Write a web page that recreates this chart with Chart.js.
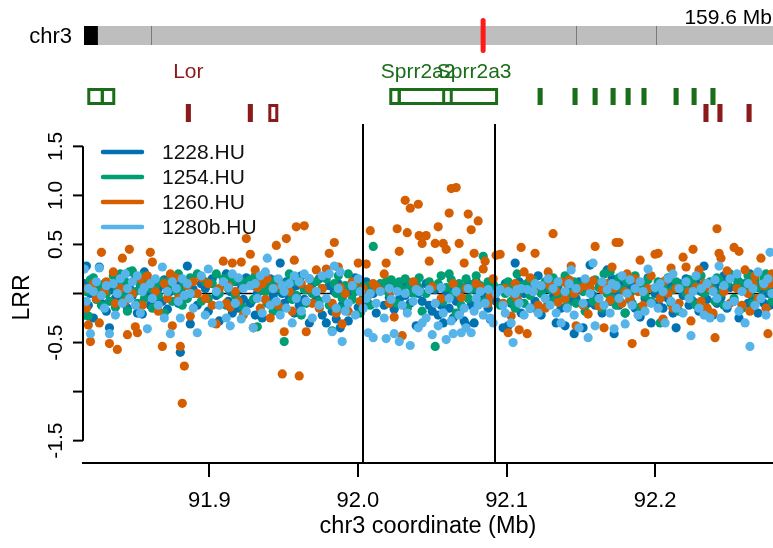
<!DOCTYPE html>
<html>
<head>
<meta charset="utf-8">
<script src="https://cdn.jsdelivr.net/npm/chart.js@4.4.1/dist/chart.umd.min.js"></script>
<style>
  html, body { margin: 0; padding: 0; background: #fff; }
  #wrap { width: 773px; height: 548px; }
</style>
</head>
<body>
<div id="wrap"><canvas id="lrrChart" width="773" height="548"></canvas></div>
<script>
// probe positions (Mb) and LRR per sample
const probePositions = [
  // 91.815 - 91.895
  91.8159, 91.8173, 91.8186, 91.8200, 91.8220, 91.8240, 91.8260, 91.8274, 91.8294, 91.8307, 91.8328, 91.8354, 91.8368, 91.8381, 91.8401,
  91.8415, 91.8435, 91.8449, 91.8462, 91.8482, 91.8502, 91.8516, 91.8536, 91.8549, 91.8563, 91.8583, 91.8603, 91.8617, 91.8637, 91.8657,
  91.8684, 91.8697, 91.8718, 91.8738, 91.8751, 91.8778, 91.8792, 91.8805, 91.8818, 91.8832, 91.8852, 91.8872, 91.8892, 91.8919, 91.8946,
  // 91.897 - 91.970
  91.8973, 91.8993, 91.9020, 91.9047, 91.9067, 91.9094, 91.9114, 91.9128, 91.9141, 91.9155, 91.9175, 91.9195, 91.9215, 91.9229, 91.9249,
  91.9276, 91.9296, 91.9309, 91.9323, 91.9343, 91.9356, 91.9377, 91.9390, 91.9410, 91.9430, 91.9451, 91.9464, 91.9477, 91.9491, 91.9504,
  91.9518, 91.9538, 91.9558, 91.9572, 91.9585, 91.9605, 91.9619, 91.9639, 91.9652, 91.9673, 91.9693,
  // 91.972 - 92.048
  91.9720, 91.9740, 91.9760, 91.9787, 91.9807, 91.9827, 91.9841, 91.9854, 91.9868, 91.9881, 91.9894, 91.9915, 91.9935, 91.9962, 91.9982,
  92.0002, 92.0016, 92.0036, 92.0056, 92.0069, 92.0083, 92.0103, 92.0123, 92.0150, 92.0177, 92.0190, 92.0211, 92.0224, 92.0244, 92.0264,
  92.0278, 92.0298, 92.0318, 92.0332, 92.0352, 92.0372, 92.0392, 92.0406, 92.0412, 92.0432, 92.0459, 92.0480,
  // 92.050 - 92.123
  92.0500, 92.0520, 92.0540, 92.0560, 92.0574, 92.0594, 92.0614, 92.0628, 92.0641, 92.0661, 92.0681, 92.0695, 92.0715, 92.0728, 92.0742,
  92.0762, 92.0782, 92.0796, 92.0809, 92.0823, 92.0843, 92.0856, 92.0876, 92.0890, 92.0910, 92.0930, 92.0957, 92.0977, 92.0991, 92.1011,
  92.1031, 92.1044, 92.1058, 92.1071, 92.1085, 92.1098, 92.1118, 92.1139, 92.1159, 92.1179, 92.1192, 92.1213, 92.1233,
  // 92.126 - 92.200
  92.1260, 92.1280, 92.1293, 92.1313, 92.1334, 92.1347, 92.1367, 92.1394, 92.1408, 92.1421, 92.1435, 92.1455, 92.1468, 92.1488, 92.1515,
  92.1529, 92.1549, 92.1562, 92.1582, 92.1596, 92.1623, 92.1643, 92.1656, 92.1677, 92.1697, 92.1710, 92.1724, 92.1737, 92.1757, 92.1777,
  92.1798, 92.1811, 92.1831, 92.1845, 92.1865, 92.1885, 92.1899, 92.1919, 92.1932, 92.1952, 92.1973, 92.1999,
  // 92.202 - 92.279
  92.2020, 92.2033, 92.2053, 92.2067, 92.2087, 92.2107, 92.2120, 92.2141, 92.2161, 92.2188, 92.2208, 92.2228, 92.2241, 92.2255, 92.2275,
  92.2295, 92.2309, 92.2329, 92.2349, 92.2369, 92.2389, 92.2403, 92.2416, 92.2430, 92.2443, 92.2463, 92.2484, 92.2504, 92.2531, 92.2551,
  92.2564, 92.2584, 92.2605, 92.2625, 92.2638, 92.2658, 92.2672, 92.2692, 92.2712, 92.2732, 92.2746, 92.2759, 92.2773, 92.2786
];

const lrr1228 = [
  0.10,0.28,-0.12,0.00,-0.25,0.08,0.27,-0.10,0.05,-0.18,-0.35,0.04,-0.05,0.12,-0.08,0.18,0.02,-0.15,0.06,-0.02,0.15,-0.20,0.08,-0.21,0.22,
  0.00,-0.12,0.10,-0.06,0.05,-0.08,0.14,-0.16,0.02,0.12,0.13,-0.10,-0.60,0.06,-0.05,0.28,-0.31,0.04,-0.12,0.10,
  0.05,-0.18,0.15,-0.02,-0.28,0.10,0.20,-0.08,0.02,-0.20,0.12,-0.15,0.05,-0.06,0.16,-0.10,0.08,-0.22,0.00,0.12,-0.25,0.05,-0.08,0.15,-0.02,
  0.10,-0.15,0.31,0.00,-0.10,0.12,-0.05,0.06,-0.20,0.08,-0.12,0.18,-0.06,0.04,-0.30,0.10,
  -0.05,0.15,-0.22,-0.30,0.08,-0.18,0.02,-0.26,0.10,-0.35,-0.12,0.06,-0.28,0.00,0.16,-0.14,0.10,-0.05,0.12,-0.10,0.06,0.00,-0.20,0.05,-0.12,
  0.08,-0.04,0.10,-0.16,0.05,-0.06,0.08,-0.02,0.12,-0.10,0.02,-0.33,0.00,0.05,-0.08,0.10,-0.12,
  -0.18,0.04,-0.22,-0.12,-0.30,0.02,-0.15,0.06,-0.25,-0.08,-0.20,0.04,-0.28,-0.32,0.10,-0.12,-0.30,0.12,0.02,-0.10,-0.04,0.06,-0.15,-0.26,0.00,
  -0.08,0.05,-0.35,0.10,-0.33,-0.10,0.04,0.31,-0.06,0.12,-0.20,0.00,0.10,-0.15,0.05,-0.08,0.18,-0.22,
  0.05,-0.10,0.15,-0.04,-0.30,0.08,-0.15,-0.33,0.02,-0.08,0.10,-0.41,-0.05,0.12,-0.35,0.05,-0.10,0.29,-0.02,-0.12,0.06,-0.20,0.10,0.24,-0.08,
  0.15,-0.41,0.02,-0.12,0.08,-0.20,0.05,-0.06,0.12,-0.15,0.04,-0.24,0.10,-0.05,0.16,-0.30,0.00,
  -0.10,0.05,-0.15,0.12,-0.05,0.08,-0.20,-0.35,0.10,-0.02,0.15,-0.12,0.04,-0.08,0.12,-0.18,0.02,0.28,-0.06,0.10,-0.22,0.05,-0.10,0.12,-0.04,
  0.18,-0.15,0.06,-0.08,0.14,-0.25,0.04,0.10,-0.10,0.20,-0.05,0.12,-0.20,0.05,-0.10,0.15,0.00,-0.12,0.08
];

const lrr1254 = [
  -0.22,0.02,-0.23,0.14,0.16,-0.06,0.05,-0.12,0.10,0.00,-0.08,0.18,-0.14,0.06,0.20,-0.02,0.12,-0.18,0.22,0.23,0.02,-0.10,0.10,0.18,-0.05,
  0.14,0.05,-0.15,0.08,-0.02,0.12,-0.20,0.06,0.15,-0.08,0.02,0.20,0.05,-0.12,0.10,-0.05,0.16,0.00,0.20,-0.08,
  0.12,-0.05,0.10,0.20,0.00,0.15,-0.12,0.05,0.18,0.12,-0.02,0.15,0.13,-0.15,0.10,0.14,-0.06,0.18,-0.34,0.04,0.12,0.02,-0.10,0.08,-0.18,
  0.14,0.05,-0.15,0.10,-0.49,0.08,0.20,-0.06,0.12,-0.02,0.14,-0.22,0.04,-0.10,0.15,0.00,
  0.12,-0.08,0.05,0.15,-0.12,-0.38,0.10,0.00,0.18,-0.15,-0.05,0.08,0.20,-0.06,0.02,0.10,-0.20,0.06,0.00,0.08,-0.12,0.48,0.05,0.10,0.04,
  0.12,0.00,0.14,0.08,-0.10,0.12,0.04,0.15,-0.15,0.08,0.00,0.10,0.06,0.16,-0.18,0.00,0.12,
  0.05,-0.54,0.10,0.18,-0.08,0.06,0.20,0.14,0.00,-0.20,0.10,-0.12,0.06,0.15,-0.05,0.04,0.10,0.18,-0.10,0.08,0.38,-0.08,0.12,-0.02,0.10,
  0.05,-0.12,0.06,0.00,0.12,-0.08,0.05,-0.15,0.20,0.02,0.08,-0.10,0.10,-0.02,0.14,-0.15,0.06,0.00,
  0.12,-0.08,0.04,0.16,-0.06,0.10,0.00,0.18,-0.12,0.06,0.00,0.12,-0.10,0.08,0.02,-0.18,0.10,0.04,-0.08,0.14,0.06,-0.15,0.20,0.00,0.22,
  -0.05,0.10,-0.12,0.16,0.04,-0.20,0.12,0.00,-0.10,0.18,0.06,-0.14,0.10,-0.02,0.14,-0.08,0.05,
  0.12,-0.30,0.08,0.02,0.16,-0.10,0.04,0.12,-0.18,0.08,0.00,0.14,-0.06,0.10,-0.12,0.06,0.18,0.00,-0.15,0.12,0.04,-0.08,0.16,0.14,0.00,
  -0.12,0.10,0.20,-0.05,0.08,0.12,-0.15,0.05,0.18,0.00,-0.10,0.14,0.06,-0.04,0.16,0.20,0.05,0.12,-0.08
];

const lrr1260 = [
  0.05,-0.15,-0.32,-0.49,0.10,-0.05,-0.30,0.42,0.02,0.12,-0.51,0.22,-0.10,-0.57,0.05,0.36,-0.08,-0.42,0.45,0.00,-0.34,-0.40,0.15,-0.12,0.08,
  0.18,0.42,0.32,0.02,-0.18,-0.54,0.10,-0.05,0.20,-0.33,0.16,-0.05,-0.54,-1.12,-0.74,0.08,-0.23,0.12,0.00,0.16,
  -0.05,0.10,-0.12,-0.31,0.05,0.33,-0.10,0.08,-0.14,0.31,0.02,-0.08,0.32,-0.22,0.56,0.40,-0.35,0.24,0.06,-0.15,0.10,-0.06,0.15,-0.25,0.05,
  0.49,-0.12,0.08,-0.82,-0.39,0.56,0.02,-0.18,0.34,0.68,-0.84,0.10,0.69,-0.39,0.05,-0.10,
  0.24,-0.15,0.05,0.25,0.41,-0.10,0.52,-0.20,0.27,0.06,-0.31,0.00,-0.18,0.12,0.11,0.31,-0.08,0.05,0.30,-0.02,0.64,0.10,0.07,0.03,0.20,
  0.31,-0.10,0.02,-0.24,0.66,0.43,-0.43,0.95,0.62,0.87,0.12,0.05,0.91,0.59,0.51,0.59,0.33,
  0.07,0.51,0.68,-0.05,0.51,0.45,0.82,1.07,0.10,1.08,0.51,-0.04,0.31,0.05,0.81,0.65,0.41,0.10,0.74,0.06,0.25,0.33,-0.10,-0.02,0.15,
  0.39,0.40,-0.10,0.05,-0.40,-0.23,0.00,0.10,-0.05,-0.37,0.47,0.22,-0.41,0.16,0.02,0.41,-0.12,0.08,
  -0.15,0.22,0.08,0.61,0.02,-0.09,0.12,-0.05,0.10,0.14,0.28,0.00,-0.33,0.05,-0.12,0.08,-0.21,0.06,0.13,0.48,-0.13,0.04,-0.35,0.10,-0.07,
  0.27,0.05,0.52,0.52,-0.10,0.02,0.20,-0.05,-0.51,0.15,0.02,0.34,-0.12,-0.40,0.05,0.18,0.40,
  0.41,-0.05,-0.26,0.13,0.00,0.26,-0.15,0.05,-0.10,0.37,0.27,0.02,-0.28,0.45,0.06,0.24,-0.08,0.10,-0.15,0.05,-0.20,-0.45,0.66,0.41,0.36,
  0.02,0.23,-0.10,0.47,0.05,0.43,-0.12,0.24,0.00,-0.18,0.10,0.18,-0.05,0.36,0.08,-0.15,-0.41,0.10,0.20
];

const lrr1280b = [
  0.25,-0.08,0.05,-0.41,0.02,0.12,0.26,-0.02,-0.15,0.08,-0.41,0.10,-0.22,0.00,0.15,-0.10,0.20,0.05,-0.05,0.12,-0.12,0.18,-0.20,0.02,0.06,
  -0.36,0.10,-0.05,0.15,-0.12,0.27,-0.25,0.02,-0.41,0.12,0.05,-0.08,-0.25,0.15,-0.02,0.10,0.00,-0.15,-0.40,0.18,
  -0.22,0.25,-0.30,0.02,-0.12,0.12,-0.25,0.06,-0.33,0.20,-0.10,0.16,-0.26,0.05,-0.18,0.08,-0.35,0.10,-0.05,0.18,-0.20,0.22,0.36,-0.12,0.05,
  -0.08,0.15,-0.22,0.08,0.02,-0.15,0.10,-0.30,0.18,-0.05,0.12,-0.18,0.20,-0.08,0.15,-0.25,
  0.02,-0.12,0.18,-0.05,0.20,-0.39,0.28,-0.15,0.05,0.22,-0.49,-0.18,-0.10,0.08,-0.22,0.15,0.02,-0.15,-0.05,-0.40,0.00,-0.45,-0.10,0.02,-0.25,
  -0.46,0.05,-0.06,-0.41,0.02,-0.49,-0.12,0.00,-0.20,-0.53,-0.08,0.04,-0.35,0.02,-0.30,-0.25,0.04,
  -0.42,-0.10,-0.33,0.06,-0.20,-0.47,-0.05,-0.28,-0.41,0.02,-0.22,-0.40,-0.15,-0.35,0.05,-0.40,-0.18,-0.05,-0.12,0.02,-0.22,-0.10,0.04,-0.25,-0.30,
  0.00,0.04,-0.12,-0.20,0.02,-0.30,-0.50,0.00,0.04,-0.10,0.05,-0.22,0.04,-0.15,0.02,0.10,-0.20,0.08,
  -0.05,0.15,-0.12,0.05,-0.20,0.12,-0.30,0.02,-0.15,0.10,0.24,-0.22,0.05,-0.35,-0.10,0.15,-0.45,0.00,0.31,-0.33,-0.05,0.12,-0.12,0.04,-0.20,
  0.10,-0.36,0.08,-0.05,0.18,-0.31,0.00,0.14,-0.12,0.05,-0.22,0.12,0.02,-0.18,0.25,-0.10,0.06,
  -0.15,0.10,0.02,-0.30,0.15,-0.08,0.20,-0.15,0.05,-0.20,0.12,-0.05,-0.43,0.02,0.18,-0.15,0.05,-0.22,0.10,-0.25,0.02,0.14,-0.05,0.28,-0.25,
  0.08,-0.12,0.15,-0.08,0.20,-0.18,0.02,-0.30,0.10,-0.54,0.05,-0.12,0.22,-0.05,0.10,-0.22,0.15,0.42,0.00
];

const sampleNames = ['1228.HU', '1254.HU', '1260.HU', '1280b.HU'];
const sampleColors = ['#0072B2', '#009E73', '#D55E00', '#56B4E9'];

// axes
const xTicks = [91.9, 92.0, 92.1, 92.2];
const yTicks = [-1.5, -1.0, -0.5, 0, 0.5, 1.0, 1.5];
const yTickLabels = ['-1.5', '', '-0.5', '', '0.5', '1.0', '1.5'];
const regionBounds = [92.0036, 92.0923];

// chromosome ideogram (Mb along chr3)
const chrLength = 159.6;
const centromere = [0, 3.2];
const bandEdges = [15.5, 113.5, 131.9];
const focusMark = 92.05;

// gene tracks: exons [start, end] in Mb
const greenGenes = [
  [[91.8189, 91.8280], [91.8280, 91.8357]],
  [[92.0221, 92.0278], [92.0278, 92.0628]],
  [[92.0577, 92.0933]],
  [[92.1219, 92.1233]], [[92.1454, 92.1468]], [[92.1589, 92.1603]], [[92.1710, 92.1724]], [[92.1811, 92.1825]],
  [[92.1918, 92.1932]], [[92.2134, 92.2148]], [[92.2255, 92.2269]], [[92.2382, 92.2396]]
];
const redGenes = [
  [[91.8852, 91.8866]], [[91.9269, 91.9283]], [[91.9407, 91.9454]],
  [[92.2335, 92.2349]], [[92.2429, 92.2443]], [[92.2625, 92.2639]]
];
const geneLabels = ['Lor', 'Sprr2a2', 'Sprr2a3'];
const geneLabelPos = [91.8859, 92.0405, 92.0782];
const geneLabelColors = ['#8B1A1A', '#1A6E1A', '#1A6E1A'];

const FONT = "'Liberation Sans', Arial, Helvetica, sans-serif";
Chart.defaults.font.family = FONT;

const sampleSeries = [lrr1228, lrr1254, lrr1260, lrr1280b];
const datasets = sampleSeries.map((vals, i) => ({
  label: sampleNames[i],
  data: probePositions.map((x, j) => ({ x: x, y: vals[j] })),
  backgroundColor: sampleColors[i],
  borderWidth: 0,
  pointRadius: 4.6,
  pointHoverRadius: 4.6,
  order: 4 - i   // later samples drawn on top
}));

const decor = {
  id: 'decor',
  beforeDraw(chart) {
    const c = chart.ctx;
    c.save();
    c.fillStyle = '#fff';
    c.fillRect(0, 0, chart.width, chart.height);
    c.restore();
  },
  beforeDatasetsDraw(chart) {
    const c = chart.ctx, a = chart.chartArea, y = chart.scales.y;
    c.save();
    c.strokeStyle = '#000';
    c.lineWidth = 1.6;
    c.beginPath();
    c.moveTo(a.left, y.getPixelForValue(0));
    c.lineTo(a.right, y.getPixelForValue(0));
    c.stroke();
    c.restore();
  },
  afterDatasetsDraw(chart) {
    const c = chart.ctx, a = chart.chartArea, x = chart.scales.x;
    c.save();
    c.strokeStyle = '#000';
    c.lineWidth = 2;
    regionBounds.forEach(v => {
      const px = Math.round(x.getPixelForValue(v));
      c.beginPath();
      c.moveTo(px, a.top);
      c.lineTo(px, a.bottom);
      c.stroke();
    });
    c.restore();
  },
  afterDraw(chart) {
    const c = chart.ctx, a = chart.chartArea, x = chart.scales.x, y = chart.scales.y;
    c.save();

    // y axis, R style: line spans first to last tick
    c.strokeStyle = '#000';
    c.lineWidth = 2;
    c.beginPath();
    c.moveTo(a.left, y.getPixelForValue(yTicks[yTicks.length - 1]));
    c.lineTo(a.left, y.getPixelForValue(yTicks[0]));
    c.stroke();
    c.fillStyle = '#000';
    c.font = '21px ' + FONT;
    c.textAlign = 'center';
    c.textBaseline = 'alphabetic';
    yTicks.forEach((v, i) => {
      const py = y.getPixelForValue(v);
      c.beginPath();
      c.moveTo(a.left - 10, py);
      c.lineTo(a.left, py);
      c.stroke();
      if (yTickLabels[i]) {
        c.save();
        c.translate(a.left - 21, py);
        c.rotate(-Math.PI / 2);
        c.fillText(yTickLabels[i], 0, 0);
        c.restore();
      }
    });
    c.save();
    c.font = '23px ' + FONT;
    c.translate(29, (a.top + a.bottom) / 2 + 4);
    c.rotate(-Math.PI / 2);
    c.fillText('LRR', 0, 0);
    c.restore();

    // legend
    c.lineCap = 'round';
    c.font = '21px ' + FONT;
    c.textAlign = 'left';
    c.textBaseline = 'middle';
    sampleNames.forEach((name, i) => {
      const ly = 152 + i * 25;
      c.strokeStyle = sampleColors[i];
      c.lineWidth = 4.5;
      c.beginPath();
      c.moveTo(103, ly);
      c.lineTo(142, ly);
      c.stroke();
      c.fillStyle = '#111';
      c.fillText(name, 162, ly + 1);
    });

    // chromosome ideogram
    const idL = 84, idW = 692;
    const ip = mb => idL + mb / chrLength * idW;
    c.fillStyle = '#BEBEBE';
    c.fillRect(ip(0), 26, idW, 19);
    c.fillStyle = '#000';
    c.fillRect(ip(centromere[0]), 26, ip(centromere[1]) - ip(centromere[0]), 19);
    c.strokeStyle = '#7a7a7a';
    c.lineWidth = 1;
    c.lineCap = 'butt';
    bandEdges.forEach(b => {
      const px = Math.round(ip(b)) + 0.5;
      c.beginPath();
      c.moveTo(px, 26);
      c.lineTo(px, 45);
      c.stroke();
    });
    c.strokeStyle = '#FF1A1A';
    c.lineWidth = 5;
    c.lineCap = 'round';
    c.beginPath();
    c.moveTo(ip(focusMark), 20.5);
    c.lineTo(ip(focusMark), 50.5);
    c.stroke();

    c.fillStyle = '#000';
    c.font = '22px ' + FONT;
    c.textAlign = 'right';
    c.textBaseline = 'middle';
    c.fillText('chr3', 72, 37);
    c.font = '21px ' + FONT;
    c.fillText('159.6 Mb', 772, 18);

    // gene tracks
    c.lineCap = 'butt';
    c.lineWidth = 3;
    const drawGenes = (genes, color, top, bottom) => {
      c.strokeStyle = color;
      genes.forEach(g => g.forEach(ex => {
        const x0 = x.getPixelForValue(ex[0]), x1 = x.getPixelForValue(ex[1]);
        c.strokeRect(x0, top + 1.5, x1 - x0, bottom - top - 3);
      }));
    };
    drawGenes(greenGenes, '#1A6E1A', 88, 105);
    drawGenes(redGenes, '#8B1A1A', 104, 122);

    c.font = '21px ' + FONT;
    c.textAlign = 'center';
    geneLabels.forEach((t, i) => {
      c.fillStyle = geneLabelColors[i];
      c.fillText(t, x.getPixelForValue(geneLabelPos[i]), 72);
    });

    c.restore();
  }
};

new Chart(document.getElementById('lrrChart'), {
  type: 'scatter',
  data: { datasets },
  options: {
    responsive: false,
    devicePixelRatio: 1,
    animation: false,
    layout: { autoPadding: false, padding: { left: 83, top: 124, right: 0, bottom: 0 } },
    plugins: { legend: { display: false }, tooltip: { enabled: false } },
    scales: {
      x: {
        type: 'linear',
        min: 91.815,
        max: 92.2793,
        afterBuildTicks: s => { s.ticks = xTicks.map(v => ({ value: v })); },
        afterFit: s => { s.height = 85; },
        grid: { display: true, drawOnChartArea: false, drawTicks: true, tickLength: 14, color: '#000', lineWidth: 2 },
        border: { display: true, color: '#000', width: 2 },
        ticks: { color: '#000', font: { size: 22 }, padding: 11, maxRotation: 0, autoSkip: false,
                 callback: v => Number(v).toFixed(1) },
        title: { display: true, text: 'chr3 coordinate (Mb)', color: '#000', font: { size: 23.5 },
                 padding: { top: 0, bottom: 7 } }
      },
      y: { type: 'linear', display: false, min: -1.728, max: 1.728 }
    }
  },
  plugins: [decor]
});
</script>
</body>
</html>
